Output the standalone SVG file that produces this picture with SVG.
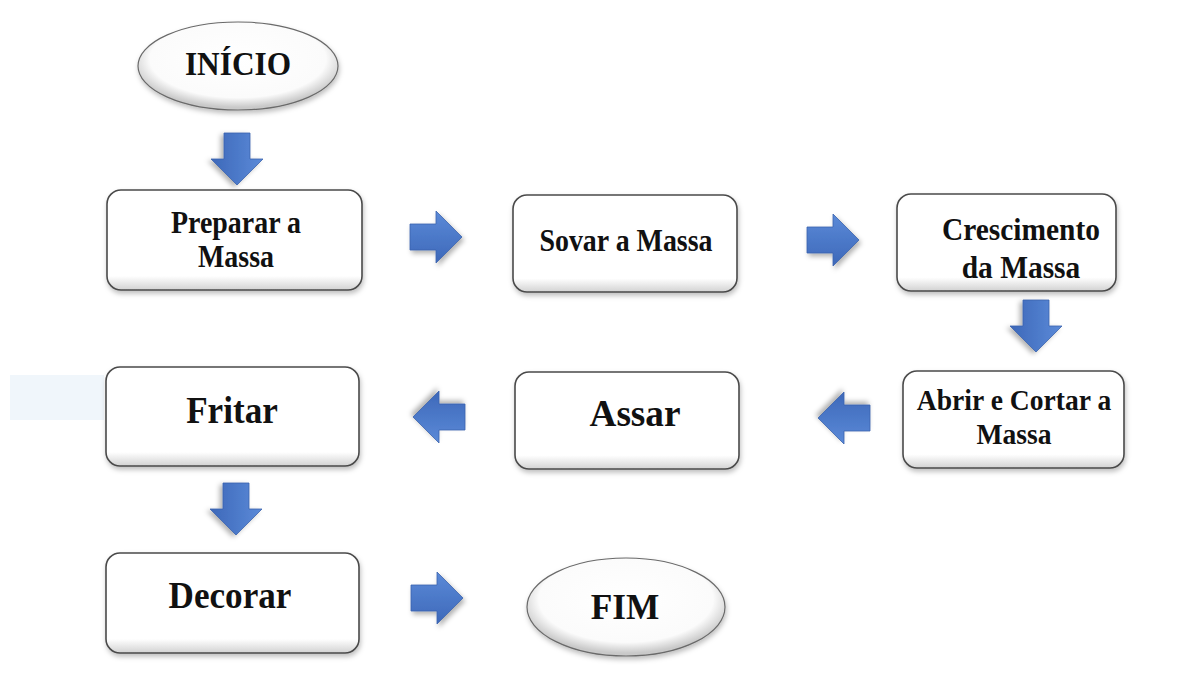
<svg xmlns="http://www.w3.org/2000/svg" width="1185" height="690" viewBox="0 0 1185 690">
<style>
.box{fill:url(#boxg);stroke:#4a4a4a;stroke-width:1.6;filter:url(#sh)}
.ell{fill:url(#ellg);stroke:#6a6a6a;stroke-width:1.2;filter:url(#sh)}
.t{font-family:'Liberation Serif','DejaVu Serif',serif;font-weight:bold;fill:#111;text-anchor:middle}
.arr{fill:url(#arrg);stroke:#3b63ad;stroke-width:0.8;filter:url(#ash)}
</style>
<defs>
<linearGradient id="boxg" x1="0" y1="0" x2="0" y2="1">
<stop offset="0" stop-color="#ffffff"/>
<stop offset="0.86" stop-color="#ffffff"/>
<stop offset="1" stop-color="#d2d2d2"/>
</linearGradient>
<radialGradient id="ellg" cx="0.5" cy="0.42" r="0.55">
<stop offset="0" stop-color="#ffffff"/>
<stop offset="0.8" stop-color="#fbfbfb"/>
<stop offset="1" stop-color="#c9c9c9"/>
</radialGradient>
<linearGradient id="arrg" x1="0" y1="0" x2="0" y2="1">
<stop offset="0" stop-color="#5b8ad8"/>
<stop offset="1" stop-color="#3d68b9"/>
</linearGradient>
<filter id="sh" x="-10%" y="-10%" width="125%" height="135%">
<feDropShadow dx="1" dy="3" stdDeviation="2.5" flood-color="#000" flood-opacity="0.25"/>
</filter>
<filter id="ash" x="-30%" y="-30%" width="170%" height="170%">
<feDropShadow dx="2" dy="3" stdDeviation="2.5" flood-color="#000" flood-opacity="0.3"/>
</filter>
<path id="ar" d="M0,-13 H26 V-26 L52,0 L26,26 V13 H0 Z"/>
</defs>

<rect x="10" y="375" width="94" height="45" fill="#f0f6fb"/>

<g id="connectors">
<use href="#ar" class="arr" transform="translate(237,133) rotate(90)"/>
<use href="#ar" class="arr" transform="translate(410,237)"/>
<use href="#ar" class="arr" transform="translate(807,240)"/>
<use href="#ar" class="arr" transform="translate(1036,300) rotate(90)"/>
<use href="#ar" class="arr" transform="translate(870,418) rotate(180)"/>
<use href="#ar" class="arr" transform="translate(465,417) rotate(180)"/>
<use href="#ar" class="arr" transform="translate(236,483) rotate(90)"/>
<use href="#ar" class="arr" transform="translate(411,598)"/>
</g>

<g font-family="Liberation Serif, DejaVu Serif, serif">
<g id="inicio">
<ellipse class="ell" cx="238" cy="66" rx="100" ry="44"/>
<text class="t" transform="translate(238,75) scale(0.95,1)" font-size="33">INÍCIO</text>
</g>

<g id="preparar">
<rect class="box" x="107" y="190" width="255" height="100" rx="14"/>
<text class="t" transform="translate(236,233) scale(0.9,1)" font-size="31">Preparar a</text>
<text class="t" transform="translate(236,267) scale(0.9,1)" font-size="31">Massa</text>
</g>

<g id="sovar">
<rect class="box" x="513" y="195" width="224" height="97" rx="14"/>
<text class="t" transform="translate(626,251) scale(0.9,1)" font-size="31">Sovar a Massa</text>
</g>

<g id="crescimento">
<rect class="box" x="897" y="194" width="219" height="97" rx="14"/>
<text class="t" transform="translate(1021,240) scale(0.92,1)" font-size="32">Crescimento</text>
<text class="t" transform="translate(1021,278) scale(0.92,1)" font-size="32">da Massa</text>
</g>

<g id="abrir">
<rect class="box" x="903" y="371" width="221" height="97" rx="14"/>
<text class="t" transform="translate(1014,410) scale(0.92,1)" font-size="30">Abrir e Cortar a</text>
<text class="t" transform="translate(1014,444) scale(0.92,1)" font-size="30">Massa</text>
</g>

<g id="assar">
<rect class="box" x="515" y="372" width="224" height="97" rx="14"/>
<text class="t" transform="translate(635,426) scale(0.98,1)" font-size="38">Assar</text>
</g>

<g id="fritar">
<rect class="box" x="106" y="367" width="253" height="99" rx="14"/>
<text class="t" transform="translate(232,423) scale(0.95,1)" font-size="37">Fritar</text>
</g>

<g id="decorar">
<rect class="box" x="106" y="553" width="253" height="100" rx="14"/>
<text class="t" transform="translate(230,608) scale(0.95,1)" font-size="37">Decorar</text>
</g>

<g id="fim">
<ellipse class="ell" cx="626" cy="607" rx="99" ry="49"/>
<text class="t" transform="translate(625,619) scale(0.98,1)" font-size="36">FIM</text>
</g>
</g>
</svg>
